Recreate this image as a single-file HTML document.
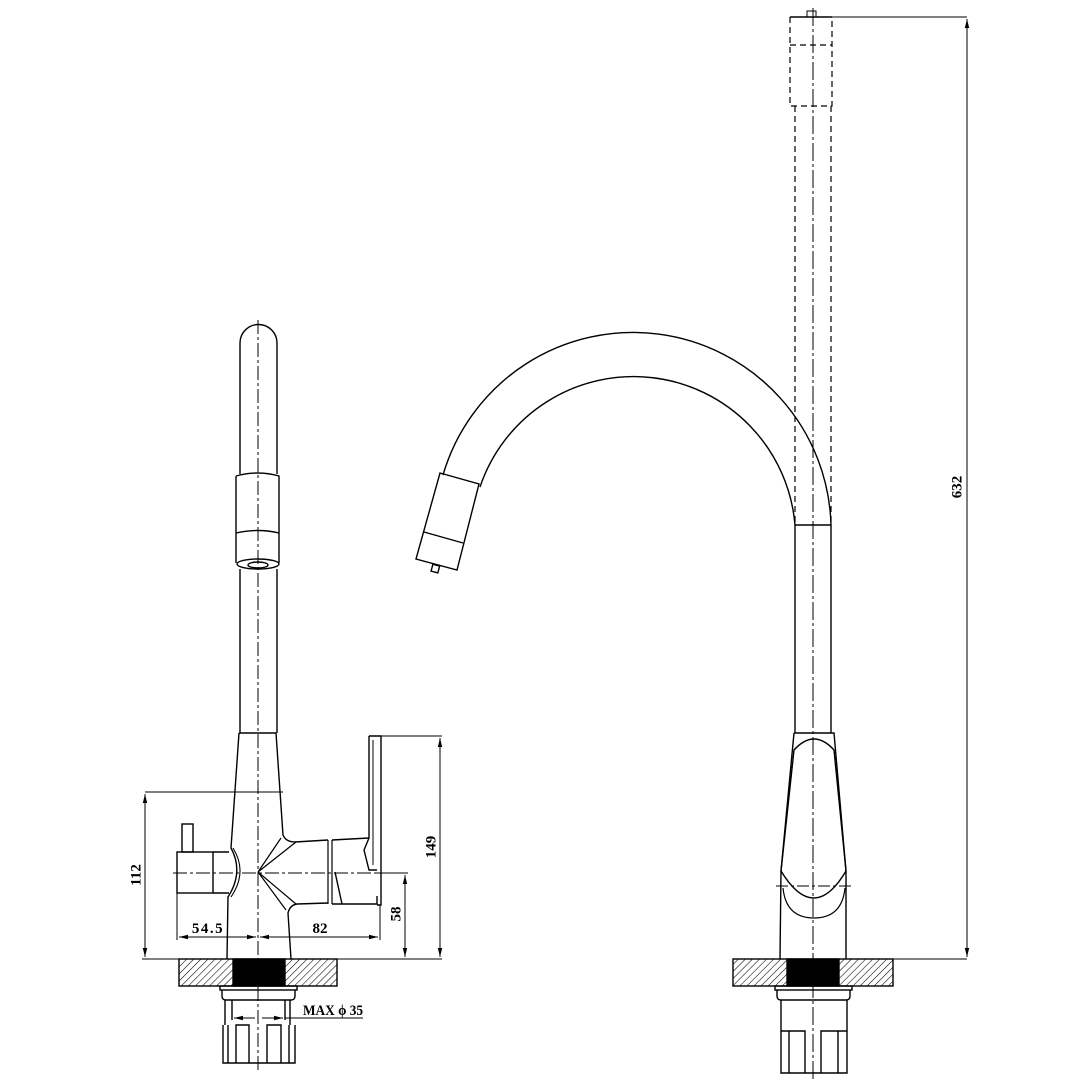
<!DOCTYPE html>
<html><head><meta charset="utf-8"><style>
html,body{margin:0;padding:0;background:#fff}
svg{display:block}
text{font-family:"Liberation Serif",serif;font-weight:bold;fill:#000}
</style></head><body>
<svg width="1080" height="1080" viewBox="0 0 1080 1080" xmlns="http://www.w3.org/2000/svg">
<defs>
<pattern id="h" patternUnits="userSpaceOnUse" width="5" height="5" patternTransform="rotate(45)">
<line x1="0" y1="0" x2="0" y2="5" stroke="#000" stroke-width="1.1"/>
</pattern>
<marker id="a" markerWidth="10" markerHeight="6" refX="9" refY="3" orient="auto" markerUnits="userSpaceOnUse"><path d="M0,0.8 L9,3 L0,5.2z" fill="#000"/></marker>
</defs>
<g fill="none" stroke="#000" stroke-width="1.4">
<!-- LEFT VIEW -->
<!-- spout tube -->
<path d="M240,474 L240,343 A18.5,18.5 0 0 1 277,343 L277,474"/>
<path d="M236,476 Q258,470 279,476 L279,563 M236,476 L236,563"/>
<path d="M236,533 Q258,528 279,533"/>
<ellipse cx="258" cy="564" rx="21" ry="5"/>
<ellipse cx="258" cy="565" rx="10" ry="3"/>
<path d="M240,569 L240,733 M277,569 L277,733"/>
<!-- body -->
<path d="M239,733 L276,733 L283,835 Q286,842 295,842 L328,840"/>
<path d="M239,733 L231,848 Q244,872 228,897 L227,959"/>
<path d="M233,848 Q248,872 231,897" stroke-width="1.1"/>
<path d="M291,959 L288,913 Q290,905 297,904 L328,903"/>
<path d="M258,872 L281,838 M258,872 L296,842 M258,872 L286,910 M258,872 L296,904" stroke-width="1.2"/>
<!-- left knob -->
<rect x="177" y="852" width="36" height="41"/>
<path d="M213,852 L229,852 M213,893 L229,893"/>
<rect x="182" y="824" width="11" height="28"/>
<!-- handle -->
<path d="M328,840 L328,904 M332,840 L332,904" stroke-width="1.2"/>
<path d="M332,840 L369,838 M332,904 L342,904 L377,904 L377,896"/>
<path d="M335,872 L342,904"/>
<path d="M369,736 L381,736 L381,905 L377,905 M369,736 L369,838 L364,850 L369,870 L377,870"/>
<path d="M373,740 L373,865" stroke-width="1"/>
<!-- centerlines -->
<path d="M258,320 L258,1070 M173,873 L407,873" stroke-width="1" stroke-dasharray="14,3,3,3"/>
<!-- dimensions left -->
<path d="M145,792 L283,792 M142,959 L442,959 M381,736 L442,736 M377,873 L408,873" stroke-width="1"/>
<path d="M177,893 L177,940 M380,905 L380,940" stroke-width="1"/>
<line x1="145" y1="875" x2="145" y2="794" stroke-width="1" marker-end="url(#a)"/>
<line x1="145" y1="875" x2="145" y2="957" stroke-width="1" marker-end="url(#a)"/>
<line x1="440" y1="845" x2="440" y2="738" stroke-width="1" marker-end="url(#a)"/>
<line x1="440" y1="845" x2="440" y2="957" stroke-width="1" marker-end="url(#a)"/>
<line x1="405" y1="915" x2="405" y2="875" stroke-width="1" marker-end="url(#a)"/>
<line x1="405" y1="915" x2="405" y2="957" stroke-width="1" marker-end="url(#a)"/>
<line x1="215" y1="937" x2="179" y2="937" stroke-width="1" marker-end="url(#a)"/>
<line x1="215" y1="937" x2="256" y2="937" stroke-width="1" marker-end="url(#a)"/>
<line x1="320" y1="937" x2="260" y2="937" stroke-width="1" marker-end="url(#a)"/>
<line x1="320" y1="937" x2="378" y2="937" stroke-width="1" marker-end="url(#a)"/>
<!-- left base -->
<rect x="179" y="959" width="158" height="27" fill="url(#h)"/>
<rect x="233" y="959" width="52" height="27" fill="#000"/>
<rect x="220" y="986" width="77" height="4"/>
<path d="M222,990 L222,996 Q222,1000 226,1000 L291,1000 Q295,1000 295,996 L295,990"/>
<path d="M225,1000 L225,1025 M290,1000 L290,1025 M232,1000 L232,1020 M285,1000 L285,1020"/>
<path d="M223,1025 L223,1063 L295,1063 L295,1025 M228,1025 L228,1063 M289,1025 L289,1063"/>
<path d="M236,1063 L236,1025 L249,1025 L249,1063 M267,1063 L267,1025 L281,1025 L281,1063"/>
<path d="M285,1018 L363,1018" stroke-width="1"/>
<line x1="255" y1="1018" x2="234" y2="1018" stroke-width="1" marker-end="url(#a)"/>
<line x1="262" y1="1018" x2="283" y2="1018" stroke-width="1" marker-end="url(#a)"/>

<!-- RIGHT VIEW -->
<!-- arc spout -->
<path d="M831,525 A198,198 0 0 0 443,475"/>
<path d="M795,525 A162,162 0 0 0 480,487"/>
<path d="M440,473 L479,484 L457,570 L416,559 Z"/>
<path d="M424,532 L463,543"/>
<rect x="432" y="565" width="7" height="7" transform="rotate(15 435 568)"/>
<path d="M795,525 L831,525 M795,525 L795,733 M831,525 L831,733"/>
<!-- dashed top -->
<path d="M790,17 L832,17" />
<path d="M807,17 L807,11 L816,11 L816,17" stroke-width="1"/>
<path d="M790,17 L790,106 L832,106 L832,17 M790,45 L832,45 M795,106 L795,525 M831,106 L831,525" stroke-dasharray="6,4" stroke-width="1.2"/>
<path d="M813,8 L813,1080" stroke-width="1" stroke-dasharray="18,3,3,3"/>
<!-- body -->
<path d="M794,733 L834,733 L846,871 L846,959 M794,733 L781,871 L780,959"/>
<path d="M794,750 Q814,728 834,750 L846,871 Q814,925 781,871 Z"/>
<path d="M783,888 Q786,918 814,918 Q842,918 845,888" stroke-width="1.2"/>
<path d="M776,886 L851,886" stroke-width="1" stroke-dasharray="12,3,3,3"/>
<!-- right base -->
<rect x="733" y="959" width="160" height="27" fill="url(#h)"/>
<rect x="787" y="959" width="52" height="27" fill="#000"/>
<rect x="775" y="986" width="77" height="4"/>
<path d="M777,990 L777,996 Q777,1000 781,1000 L846,1000 Q850,1000 850,996 L850,990"/>
<path d="M781,1000 L781,1073 L847,1073 L847,1000"/>
<path d="M789,1073 L789,1031 L781,1031 M789,1031 L805,1031 L805,1073 M821,1073 L821,1031 L838,1031 L838,1073 M838,1031 L847,1031"/>
<!-- 632 dimension -->
<path d="M832,17 L967,17 M893,959 L967,959" stroke-width="1"/>
<line x1="967" y1="490" x2="967" y2="19" stroke-width="1" marker-end="url(#a)"/>
<line x1="967" y1="490" x2="967" y2="957" stroke-width="1" marker-end="url(#a)"/>
</g>
<text x="137" y="875" font-size="15" text-anchor="middle" transform="rotate(-90 137 875)" dominant-baseline="middle">112</text>
<text x="432" y="847" font-size="15" text-anchor="middle" transform="rotate(-90 432 847)" dominant-baseline="middle">149</text>
<text x="397" y="914" font-size="15" text-anchor="middle" transform="rotate(-90 397 914)" dominant-baseline="middle">58</text>
<text x="958" y="487" font-size="15" text-anchor="middle" transform="rotate(-90 958 487)" dominant-baseline="middle">632</text>
<text x="208" y="933" font-size="15" text-anchor="middle" letter-spacing="1.5">54.5</text>
<text x="320" y="933" font-size="15" text-anchor="middle">82</text>
<text x="303" y="1015" font-size="15" textLength="60" lengthAdjust="spacingAndGlyphs">MAX ϕ 35</text>
</svg>
</body></html>
